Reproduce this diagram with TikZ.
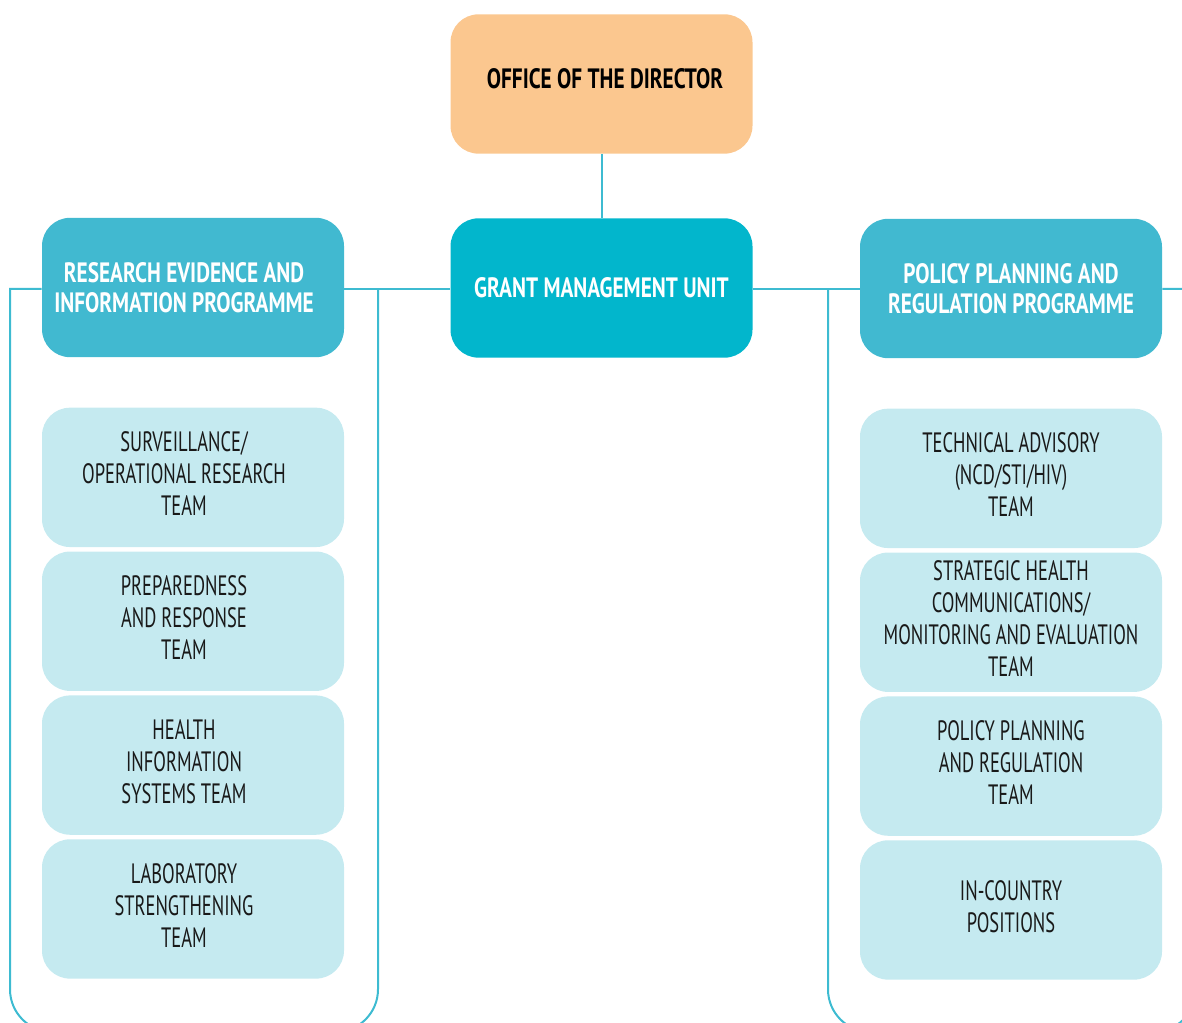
\documentclass[tikz,border=0pt]{standalone}
\usepackage{fontspec}
\setmainfont{PT Sans}[FakeStretch=0.66]
\newfontfamily\headfont{PT Sans}[FakeStretch=0.76]
\usepackage{tikz}
\usetikzlibrary{positioning}

\definecolor{officefill}{HTML}{FBC78F}
\definecolor{unitfill}{HTML}{02B6CC}
\definecolor{progfill}{HTML}{41B9D0}
\definecolor{teamfill}{HTML}{C5EAF0}
\definecolor{linkcol}{HTML}{3DBBD1}

% stacked team text; optional shift moves it off the box centre
\newcommand{\boxtext}[2][0pt]{\hspace*{#1}\begin{tabular}{@{}c@{}}#2\end{tabular}}

\tikzset{
  box/.style={rounded corners=21pt, minimum width=226.5pt, minimum height=104.5pt,
    inner sep=0pt},
  head/.style={box, text=white, font=\headfont\bfseries\fontsize{21}{22.5}\selectfont},
  team/.style={box, fill=teamfill, text=black!90, font=\fontsize{21}{24}\selectfont},
  link/.style={draw=linkcol, line width=1.5pt}
}

\begin{document}
\begin{tikzpicture}[x=0.75pt,y=-0.75pt]
   \clip (0,0) rectangle (1182,1023);

   \node[head, fill=officefill, text=black, text depth=8pt] (office) at (601.5,84) {\hspace*{5.25pt}OFFICE OF THE DIRECTOR};
   \node[head, fill=unitfill] (gmu) at (601.5,288) {GRANT MANAGEMENT UNIT};
   \node[head, fill=progfill, align=center] (rprog) at (193,287.5) {RESEARCH EVIDENCE AND\hspace*{13.5pt}\\INFORMATION PROGRAMME\hspace*{13.5pt}};
   \node[head, fill=progfill, align=center] (pprog) at (1011,288.5) {POLICY PLANNING AND\\REGULATION PROGRAMME};

   % research teams
   \node[team, below=37.5pt of rprog] (rt1) {\boxtext[-13.5pt]{SURVEILLANCE/\\OPERATIONAL RESEARCH\\TEAM}};
   \node[team, below=3pt of rt1] (rt2) {\boxtext[-13.5pt]{PREPAREDNESS\\AND RESPONSE\\TEAM}};
   \node[team, below=3pt of rt2] (rt3) {\boxtext[-13.5pt]{HEALTH\\INFORMATION\\SYSTEMS TEAM}};
   \node[team, below=3pt of rt3] (rt4) {\boxtext[-13.5pt]{LABORATORY\\STRENGTHENING\\TEAM}};

   % policy teams
   \node[team, below=37.5pt of pprog] (pt1) {\boxtext{TECHNICAL ADVISORY\\(NCD/STI/HIV)\\TEAM}};
   \node[team, below=3pt of pt1] (pt2) {\boxtext{STRATEGIC HEALTH\\COMMUNICATIONS/\\MONITORING AND EVALUATION\\TEAM}};
   \node[team, below=3pt of pt2] (pt3) {\boxtext{POLICY PLANNING\\AND REGULATION\\TEAM}};
   \node[team, below=3pt of pt3] (pt4) {\boxtext{IN-COUNTRY\\POSITIONS}};

   \coordinate (lcorner) at (10,289);
   \coordinate (lstem) at (378,289);
   \coordinate (rstem) at (828,289);
   \coordinate (rcorner) at (1196,289);

   \draw[link] (office) -- (gmu);
   \draw[link] (gmu.west |- lstem) -- (rprog.east |- lstem);
   \draw[link] (gmu.east |- rstem) -- (pprog.west |- rstem);
   \draw[link] (rprog.west |- lcorner) -- (lcorner) [rounded corners=32pt] -- (10,1032) -- (378,1032) [sharp corners] -- (lstem);
   \draw[link] (pprog.east |- rcorner) -- (rcorner) [rounded corners=32pt] -- (1196,1032) -- (828,1032) [sharp corners] -- (rstem);
\end{tikzpicture}
\end{document}
